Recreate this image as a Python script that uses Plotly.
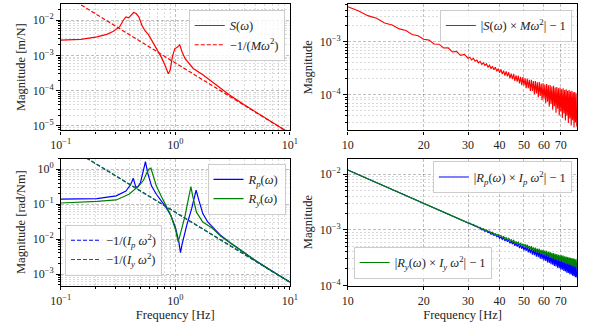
import plotly.graph_objects as go

# ---------------- data ----------------
# top-left: compliance S(w) and its mass-line asymptote
f_s = [0.1, 0.15, 0.207, 0.252, 0.286, 0.326, 0.352, 0.371, 0.391, 0.411,
       0.433, 0.456, 0.48, 0.512, 0.546, 0.582, 0.621, 0.684, 0.753, 0.814,
       0.869, 0.902, 0.944, 0.988, 1.04, 1.094, 1.15, 1.22, 1.346, 1.435,
       1.74, 2.1, 2.5, 3.0, 4.0, 5.0, 7.0, 10.0]
s_mag = [2.73e-3, 2.85e-3, 3.39e-3, 3.98e-3, 4.79e-3, 6.46e-3, 1.0e-2, 1.245e-2, 1.175e-2, 1.35e-2,
         1.66e-2, 1.55e-2, 1.245e-2, 7.08e-3, 4.95e-3, 3.98e-3, 2.79e-3, 1.62e-3, 9.12e-4, 5.25e-4,
         3.02e-4, 3.80e-4, 9.12e-4, 1.55e-3, 1.70e-3, 2.0e-3, 1.23e-3, 8.13e-4, 5.25e-4, 4.27e-4,
         2.82e-4, 1.74e-4, 1.12e-4, 7.41e-5, 3.98e-5, 2.51e-5, 1.26e-5, 6.2e-6]
f_line = [0.1, 10.0]
s_asym = [6.17e-2, 6.17e-6]

# bottom-left: rotational compliances and their inertia asymptotes
f_rp = [0.1, 0.15, 0.207, 0.305, 0.371, 0.408, 0.43, 0.45, 0.465, 0.496,
        0.528, 0.549, 0.575, 0.621, 0.684, 0.753, 0.83, 0.914, 1.007, 1.074,
        1.11, 1.145, 1.26, 1.39, 1.48, 1.52, 1.61, 1.74, 1.92, 2.11,
        2.5, 3.0, 4.0, 5.0, 7.0, 10.0]
rp_mag = [0.139, 0.141, 0.145, 0.1726, 0.238, 0.366, 0.55, 0.329, 0.295, 0.407,
          0.863, 1.64, 0.776, 0.329, 0.192, 0.126, 0.0813, 0.0479, 0.0204, 8.5e-3,
          4.07e-3, 6.9e-3, 0.0251, 0.0741, 0.1726, 0.251, 0.126, 0.0537, 0.0309, 0.0224,
          0.0126, 7.94e-3, 3.98e-3, 2.45e-3, 1.22e-3, 5.92e-4]
f_ry = [0.1, 0.15, 0.207, 0.305, 0.394, 0.479, 0.528, 0.563, 0.589, 0.613,
        0.64, 0.684, 0.753, 0.83, 0.914, 1.007, 1.06, 1.12, 1.22, 1.30,
        1.37, 1.41, 1.53, 1.74, 2.11, 2.5, 3.0, 4.0, 5.0, 7.0,
        10.0]
ry_mag = [0.108, 0.112, 0.120, 0.132, 0.192, 0.329, 0.483, 0.776, 1.0, 1.07,
          0.625, 0.329, 0.1726, 0.0955, 0.0479, 0.0182, 8.3e-3, 0.0162, 0.0479, 0.1396,
          0.316, 0.192, 0.0589, 0.0309, 0.0204, 0.0120, 7.76e-3, 3.94e-3, 2.43e-3, 1.21e-3,
          5.90e-4]
rp_asym = [5.89, 5.89e-4]
ry_asym = [5.89, 5.89e-4]

# right column: high-frequency residuals
f_hi = [10, 11, 12, 13, 14, 15, 16, 17, 18, 19, 20, 21, 22, 23, 24, 25, 26, 27, 28, 29,
        30, 30.5, 31, 31.5, 32, 32.5, 33, 33.5, 34, 34.5, 35, 35.5, 36, 36.5, 37, 37.5, 38, 38.5, 39, 39.5,
        40, 40.5, 41, 41.5, 42, 42.5, 43, 43.5, 44, 44.5, 45, 45.5, 46, 46.5, 47, 47.5, 48, 48.5, 49, 49.5,
        50, 50.5, 51, 51.5, 52, 52.5, 53, 53.5, 54, 54.5, 55, 55.5, 56, 56.5, 57, 57.5, 58, 58.5, 59, 59.5,
        60, 60.5, 61, 61.5, 62, 62.5, 63, 63.5, 64, 64.5, 65, 65.5, 66, 66.5, 67, 67.5, 68, 68.5, 69, 69.5,
        70, 70.5, 71, 71.5, 72, 72.5, 73, 73.5, 74, 74.5, 75, 75.5, 76, 76.5, 77, 77.5, 78, 78.5, 79, 79.5,
        80, 80.5, 81]
s_res = [4.60e-3, 3.88e-3, 3.13e-3, 2.80e-3, 2.28e-3, 2.08e-3, 1.76e-3, 1.64e-3, 1.38e-3, 1.31e-3,
         1.12e-3, 1.08e-3, 9.12e-4, 9.05e-4, 7.67e-4, 7.73e-4, 6.46e-4, 6.63e-4, 5.58e-4, 5.80e-4,
         4.91e-4, 5.14e-4, 4.55e-4, 4.87e-4, 4.31e-4, 4.53e-4, 4.01e-4, 4.30e-4, 3.74e-4, 4.06e-4,
         3.57e-4, 3.87e-4, 3.34e-4, 3.63e-4, 3.12e-4, 3.47e-4, 2.99e-4, 3.32e-4, 2.78e-4, 3.12e-4,
         2.62e-4, 3.03e-4, 2.46e-4, 2.86e-4, 2.30e-4, 2.78e-4, 2.24e-4, 2.67e-4, 2.04e-4, 2.51e-4,
         1.98e-4, 2.49e-4, 1.83e-4, 2.34e-4, 1.77e-4, 2.30e-4, 1.64e-4, 2.19e-4, 1.53e-4, 2.16e-4,
         1.51e-4, 2.06e-4, 1.34e-4, 2.03e-4, 1.33e-4, 1.92e-4, 1.18e-4, 1.93e-4, 1.18e-4, 1.83e-4,
         1.03e-4, 1.82e-4, 1.06e-4, 1.73e-4, 9.06e-5, 1.74e-4, 9.57e-5, 1.64e-4, 7.93e-5, 1.66e-4,
         8.43e-5, 1.57e-4, 6.92e-5, 1.61e-4, 7.42e-5, 1.51e-4, 6.03e-5, 1.54e-4, 6.74e-5, 1.44e-4,
         5.23e-5, 1.48e-4, 6.12e-5, 1.38e-4, 4.61e-5, 1.41e-4, 5.47e-5, 1.33e-4, 4.06e-5, 1.38e-4,
         4.88e-5, 1.28e-4, 3.65e-5, 1.33e-4, 4.44e-5, 1.24e-4, 3.28e-5, 1.28e-4, 4.03e-5, 1.20e-4,
         2.94e-5, 1.23e-4, 3.58e-5, 1.16e-4, 2.64e-5, 1.19e-4, 3.33e-5, 1.12e-4, 2.43e-5, 1.13e-4,
         3.02e-5, 1.07e-4, 2.52e-5]
rp_res = [1.19e-2, 9.82e-3, 8.24e-3, 7.03e-3, 6.05e-3, 5.28e-3, 4.63e-3, 4.11e-3, 3.66e-3, 3.29e-3,
          2.96e-3, 2.69e-3, 2.45e-3, 2.24e-3, 2.06e-3, 1.89e-3, 1.75e-3, 1.62e-3, 1.51e-3, 1.40e-3,
          1.309e-3, 1.292e-3, 1.213e-3, 1.211e-3, 1.139e-3, 1.138e-3, 1.071e-3, 1.071e-3, 9.98e-4, 1.020e-3,
          9.42e-4, 9.63e-4, 8.90e-4, 9.11e-4, 8.34e-4, 8.63e-4, 7.91e-4, 8.27e-4, 7.51e-4, 7.86e-4,
          7.07e-4, 7.47e-4, 6.73e-4, 7.19e-4, 6.35e-4, 6.85e-4, 6.12e-4, 6.60e-4, 5.72e-4, 6.31e-4,
          5.53e-4, 6.10e-4, 5.17e-4, 5.83e-4, 5.01e-4, 5.64e-4, 4.70e-4, 5.41e-4, 4.56e-4, 5.25e-4,
          4.28e-4, 5.04e-4, 4.17e-4, 4.94e-4, 3.92e-4, 4.71e-4, 3.82e-4, 4.62e-4, 3.59e-4, 4.41e-4,
          3.50e-4, 4.32e-4, 3.30e-4, 4.18e-4, 3.22e-4, 4.07e-4, 3.04e-4, 3.93e-4, 2.98e-4, 3.86e-4,
          2.81e-4, 3.74e-4, 2.75e-4, 3.65e-4, 2.60e-4, 3.54e-4, 2.55e-4, 3.45e-4, 2.42e-4, 3.35e-4,
          2.37e-4, 3.27e-4, 2.24e-4, 3.17e-4, 2.20e-4, 3.11e-4, 2.08e-4, 3.02e-4, 2.05e-4, 2.95e-4,
          1.94e-4, 2.88e-4, 1.91e-4, 2.82e-4, 1.82e-4, 2.73e-4, 1.78e-4, 2.68e-4, 1.69e-4, 2.61e-4,
          1.67e-4, 2.57e-4, 1.59e-4, 2.50e-4, 1.57e-4, 2.46e-4, 1.49e-4, 2.39e-4, 1.47e-4, 2.35e-4,
          1.41e-4, 2.28e-4, 1.39e-4]
ry_res = [1.19e-2, 9.85e-3, 8.27e-3, 7.06e-3, 6.08e-3, 5.31e-3, 4.66e-3, 4.14e-3, 3.68e-3, 3.31e-3,
          2.99e-3, 2.70e-3, 2.47e-3, 2.25e-3, 2.08e-3, 1.91e-3, 1.77e-3, 1.64e-3, 1.52e-3, 1.42e-3,
          1.335e-3, 1.330e-3, 1.250e-3, 1.259e-3, 1.174e-3, 1.172e-3, 1.104e-3, 1.113e-3, 1.039e-3, 1.050e-3,
          9.90e-4, 1.001e-3, 9.36e-4, 9.47e-4, 8.86e-4, 9.05e-4, 8.40e-4, 8.59e-4, 8.05e-4, 8.24e-4,
          7.66e-4, 7.90e-4, 7.29e-4, 7.60e-4, 7.02e-4, 7.25e-4, 6.63e-4, 7.04e-4, 6.40e-4, 6.67e-4,
          6.12e-4, 6.50e-4, 5.84e-4, 6.16e-4, 5.66e-4, 6.01e-4, 5.37e-4, 5.82e-4, 5.21e-4, 5.64e-4,
          5.05e-4, 5.51e-4, 4.81e-4, 5.39e-4, 4.66e-4, 5.14e-4, 4.54e-4, 5.08e-4, 4.32e-4, 4.85e-4,
          4.21e-4, 4.79e-4, 4.06e-4, 4.59e-4, 3.95e-4, 4.57e-4, 3.79e-4, 4.38e-4, 3.69e-4, 4.37e-4,
          3.57e-4, 4.23e-4, 3.49e-4, 4.19e-4, 3.35e-4, 4.03e-4, 3.30e-4, 4.01e-4, 3.17e-4, 3.86e-4,
          3.10e-4, 3.82e-4, 3.00e-4, 3.69e-4, 2.94e-4, 3.65e-4, 2.83e-4, 3.56e-4, 2.80e-4, 3.52e-4,
          2.70e-4, 3.48e-4, 2.64e-4, 3.43e-4, 2.58e-4, 3.34e-4, 2.52e-4, 3.30e-4, 2.43e-4, 3.25e-4,
          2.42e-4, 3.20e-4, 2.33e-4, 3.15e-4, 2.29e-4, 3.11e-4, 2.23e-4, 3.05e-4, 2.20e-4, 3.01e-4,
          2.12e-4, 2.94e-4, 2.08e-4]

# tick labels
lo_ticks = [0.1, 1, 10]
lo_ticklabels = ["10<sup>−1</sup>", "10<sup>0</sup>", "10<sup>1</sup>"]
hi_ticks = [10, 20, 30, 40, 50, 60, 70]
hi_ticklabels = ["10", "20", "30", "40", "50", "60", "70"]

# ---------------- styling ----------------
FONT = "Liberation Serif"
RED, BLUE, GREEN = "#ff0000", "#0000ff", "#008000"
DASH = "4px,2px"
W = 1.2


def pw(e):
    return "10<sup>%s%d</sup>" % ("−" if e < 0 else "", abs(e))


def minors(e0, e1):
    return [m * 10.0 ** e for e in range(e0, e1) for m in range(2, 10)]


def base_axis(domain, rng, tickvals, ticktext, anchor, minorvals=None, title=None, standoff=4):
    ax = dict(type="log", domain=domain, range=rng, anchor=anchor,
              tickmode="array", tickvals=tickvals, ticktext=ticktext,
              showline=True, linecolor="black", linewidth=1.2, mirror=True,
              ticks="outside", ticklen=3.5, tickwidth=0.8, tickcolor="black",
              showgrid=True, gridcolor="rgba(0,0,0,0.25)", griddash="3px,2px", gridwidth=0.7,
              zeroline=False, tickfont=dict(family=FONT, size=12, color="#222"))
    if minorvals is not None:
        ax["minor"] = dict(tickmode="array", tickvals=minorvals, ticks="outside", ticklen=2,
                           tickwidth=0.6, tickcolor="black", showgrid=True,
                           gridcolor="rgba(0,0,0,0.14)", griddash="2px,2px", gridwidth=0.6)
    if title:
        ax["title"] = dict(text=title, font=dict(family=FONT, size=12.5, color="#222"), standoff=standoff)
    return ax


XL = [0.0875, 0.4824]
XR = [0.5824, 0.9783]
YT = [0.5898, 0.9877]
YB = [0.1015, 0.5015]

fig = go.Figure()

# top-left
fig.add_trace(go.Scatter(x=f_s, y=s_mag, mode="lines", line=dict(color=RED, width=W),
                         name="<i>S</i>(<i>ω</i>)", xaxis="x", yaxis="y", legend="legend"))
fig.add_trace(go.Scatter(x=f_line, y=s_asym, mode="lines", line=dict(color=RED, width=W, dash=DASH),
                         name="−1/(<i>Mω</i><sup>2</sup>)", xaxis="x", yaxis="y", legend="legend"))
# top-right
fig.add_trace(go.Scatter(x=f_hi, y=s_res, mode="lines", line=dict(color=RED, width=1.1),
                         name="|<i>S</i>(<i>ω</i>) × <i>Mω</i><sup>2</sup>| − 1",
                         xaxis="x2", yaxis="y2", legend="legend2"))
# bottom-left
fig.add_trace(go.Scatter(x=f_rp, y=rp_mag, mode="lines", line=dict(color=BLUE, width=W),
                         name="<i>R</i><sub><i>p</i></sub>(<i>ω</i>)", xaxis="x3", yaxis="y3", legend="legend3"))
fig.add_trace(go.Scatter(x=f_ry, y=ry_mag, mode="lines", line=dict(color=GREEN, width=W),
                         name="<i>R</i><sub><i>y</i></sub>(<i>ω</i>)", xaxis="x3", yaxis="y3", legend="legend3"))
fig.add_trace(go.Scatter(x=f_line, y=rp_asym, mode="lines", line=dict(color=BLUE, width=W, dash=DASH),
                         name="−1/(<i>I</i><sub><i>p</i></sub> <i>ω</i><sup>2</sup>)",
                         xaxis="x3", yaxis="y3", legend="legend4"))
fig.add_trace(go.Scatter(x=f_line, y=ry_asym, mode="lines", line=dict(color=GREEN, width=W, dash=DASH),
                         name="−1/(<i>I</i><sub><i>y</i></sub> <i>ω</i><sup>2</sup>)",
                         xaxis="x3", yaxis="y3", legend="legend4"))
# bottom-right
fig.add_trace(go.Scatter(x=f_hi, y=rp_res, mode="lines", line=dict(color=BLUE, width=1.1),
                         name="|<i>R</i><sub><i>p</i></sub>(<i>ω</i>) × <i>I</i><sub><i>p</i></sub> <i>ω</i><sup>2</sup>| − 1",
                         xaxis="x4", yaxis="y4", legend="legend5"))
fig.add_trace(go.Scatter(x=f_hi, y=ry_res, mode="lines", line=dict(color=GREEN, width=1.1),
                         name="|<i>R</i><sub><i>y</i></sub>(<i>ω</i>) × <i>I</i><sub><i>y</i></sub> <i>ω</i><sup>2</sup>| − 1",
                         xaxis="x4", yaxis="y4", legend="legend6"))

LEG = dict(font=dict(family=FONT, size=12.5, color="#222"), bgcolor="rgba(255,255,255,0.85)",
           bordercolor="#cccccc", borderwidth=1, itemwidth=30)

fig.update_layout(
    width=598, height=325, margin=dict(l=0, r=0, t=0, b=0),
    paper_bgcolor="white", plot_bgcolor="white",
    font=dict(family=FONT, size=12, color="#222"),
    xaxis=base_axis(XL, [-1, 1], lo_ticks, lo_ticklabels, "y", minors(-1, 1)),
    yaxis=base_axis(YT, [-5.128, -1.536], [1e-5, 1e-4, 1e-3, 1e-2], [pw(-5), pw(-4), pw(-3), pw(-2)],
                    "x", minors(-6, -1), "Magnitude [m/N]", 4),
    xaxis2=base_axis(XR, [1, 1.911], hi_ticks, hi_ticklabels, "y2"),
    yaxis2=base_axis(YT, [-4.672, -2.283], [1e-4, 1e-3], [pw(-4), pw(-3)],
                     "x2", minors(-5, -2), "Magnitude", 4),
    xaxis3=base_axis(XL, [-1, 1], lo_ticks, lo_ticklabels, "y3", minors(-1, 1), "Frequency [Hz]", 2),
    yaxis3=base_axis(YB, [-3.335, 0.307], [1e-3, 1e-2, 1e-1, 1], [pw(-3), pw(-2), pw(-1), pw(0)],
                     "x3", minors(-4, 1), "Magnitude [rad/Nm]", 4),
    xaxis4=base_axis(XR, [1, 1.911], hi_ticks, hi_ticklabels, "y4", None, "Frequency [Hz]", 2),
    yaxis4=base_axis(YB, [-4.005, -1.717], [1e-4, 1e-3, 1e-2], [pw(-4), pw(-3), pw(-2)],
                     "x4", minors(-5, -1), "Magnitude", 4),
    legend=dict(LEG, x=0.4737, y=0.969, xanchor="right", yanchor="top"),
    legend2=dict(LEG, x=0.9687, y=0.969, xanchor="right", yanchor="top"),
    legend3=dict(LEG, x=0.475, y=0.4852, xanchor="right", yanchor="top"),
    legend4=dict(LEG, x=0.0948, y=0.1332, xanchor="left", yanchor="bottom"),
    legend5=dict(LEG, x=0.9687, y=0.4923, xanchor="right", yanchor="top"),
    legend6=dict(LEG, x=0.5925, y=0.123, xanchor="left", yanchor="bottom"),
)

fig.write_html("out.html", config={"displayModeBar": False},
               post_script="document.body.style.margin='0';")
